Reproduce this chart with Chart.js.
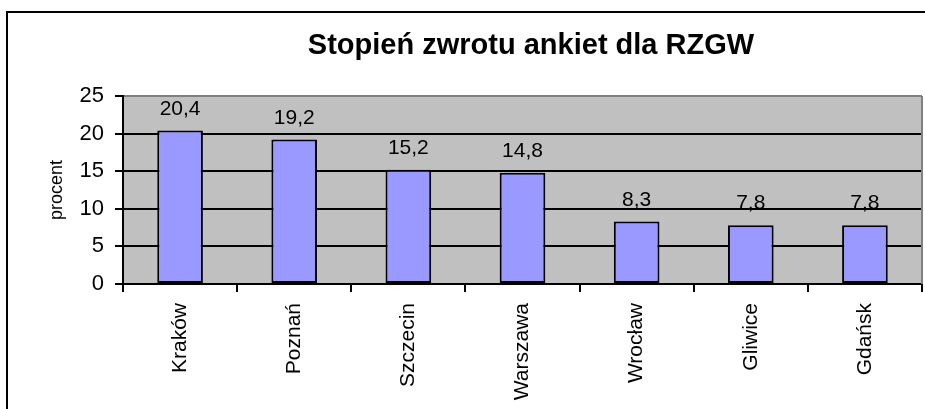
<!DOCTYPE html>
<html>
<head>
<meta charset="utf-8">
<script src="https://cdn.jsdelivr.net/npm/chart.js@4.4.1/dist/chart.umd.min.js"></script>
<style>
  html, body { margin: 0; padding: 0; background: #fff; overflow: hidden; }
  #wrap { position: relative; width: 925px; height: 409px; }
  #frame { position: absolute; left: 6px; top: 11px; width: 1000px; height: 500px; border: 2px solid #000; }
  canvas { position: absolute; left: 0; top: 0; }
</style>
</head>
<body>
<div id="wrap">
  <div id="frame"></div>
  <canvas id="rzgw" width="925" height="409"></canvas>
</div>
<script>
const chartTitle = "Stopień zwrotu ankiet dla RZGW";
const cities = ["Kraków", "Poznań", "Szczecin", "Warszawa", "Wrocław", "Gliwice", "Gdańsk"];
const percents = [20.4, 19.2, 15.2, 14.8, 8.3, 7.8, 7.8];
const yTicks = [0, 5, 10, 15, 20, 25];

const font = "'Liberation Sans', Arial, sans-serif";

// gray plot area + gray right border + title
const plotArea = {
    id: "plotArea",
    beforeDraw(chart) {
        const a = chart.chartArea, ctx = chart.ctx;
        ctx.save();
        ctx.fillStyle = "#c0c0c0";
        ctx.fillRect(a.left, a.top, a.right - a.left, a.bottom - a.top);
        ctx.restore();
    },
    afterDraw(chart) {
        const a = chart.chartArea, ctx = chart.ctx;
        ctx.save();
        ctx.strokeStyle = "#808080";
        ctx.lineWidth = 2;
        ctx.beginPath();
        ctx.moveTo(a.right, a.top);
        ctx.lineTo(a.right, a.bottom);
        ctx.stroke();
        ctx.fillStyle = "#000";
        ctx.font = "bold 29px " + font;
        ctx.textAlign = "center";
        ctx.textBaseline = "alphabetic";
        ctx.fillText(chartTitle, 531, 54);
        ctx.restore();
    }
};

// value labels above the bars
const valueLabels = {
    id: "valueLabels",
    afterDatasetsDraw(chart) {
        const ctx = chart.ctx;
        const meta = chart.getDatasetMeta(0);
        ctx.save();
        ctx.fillStyle = "#000";
        ctx.font = "21px " + font;
        ctx.textAlign = "center";
        ctx.textBaseline = "alphabetic";
        meta.data.forEach((bar, i) => {
            ctx.fillText(String(percents[i]).replace(".", ","), bar.x, bar.y - 16);
        });
        ctx.restore();
    }
};

new Chart("rzgw", {
    type: "bar",
    data: {
        labels: cities,
        datasets: [{
            data: percents,
            backgroundColor: "#9999ff",
            borderColor: "#000",
            borderWidth: 2,
            borderSkipped: false,
            barPercentage: 0.4,
            categoryPercentage: 1
        }]
    },
    options: {
        responsive: false,
        animation: false,
        layout: { padding: { top: 96, right: 3, left: 0, bottom: 0 } },
        plugins: {
            legend: { display: false },
            title: { display: false },
            tooltip: { enabled: false }
        },
        scales: {
            x: {
                grid: { offset: true, drawOnChartArea: false, color: "#000", lineWidth: 2, tickLength: 8 },
                border: { color: "#000", width: 2 },
                ticks: {
                    minRotation: 90, maxRotation: 90, padding: 11,
                    color: "#000", font: { family: font, size: 21 }
                },
                afterFit: s => { s.height = 125; }
            },
            y: {
                min: 0, max: 25,
                afterBuildTicks: s => { s.ticks = yTicks.map(v => ({ value: v })); },
                grid: {
                    color: c => (c.tick && c.tick.value === 25) ? "#808080" : "#000",
                    lineWidth: 2, tickLength: 8, tickColor: "#000"
                },
                border: { color: "#000", width: 2 },
                ticks: { padding: 11, color: "#000", font: { family: font, size: 22 } },
                title: {
                    display: true, text: "procent", color: "#000",
                    font: { family: font, size: 18 }, padding: { top: 46, bottom: 0 }
                },
                afterFit: s => { s.width = 123; }
            }
        }
    },
    plugins: [plotArea, valueLabels]
});
</script>
</body>
</html>
